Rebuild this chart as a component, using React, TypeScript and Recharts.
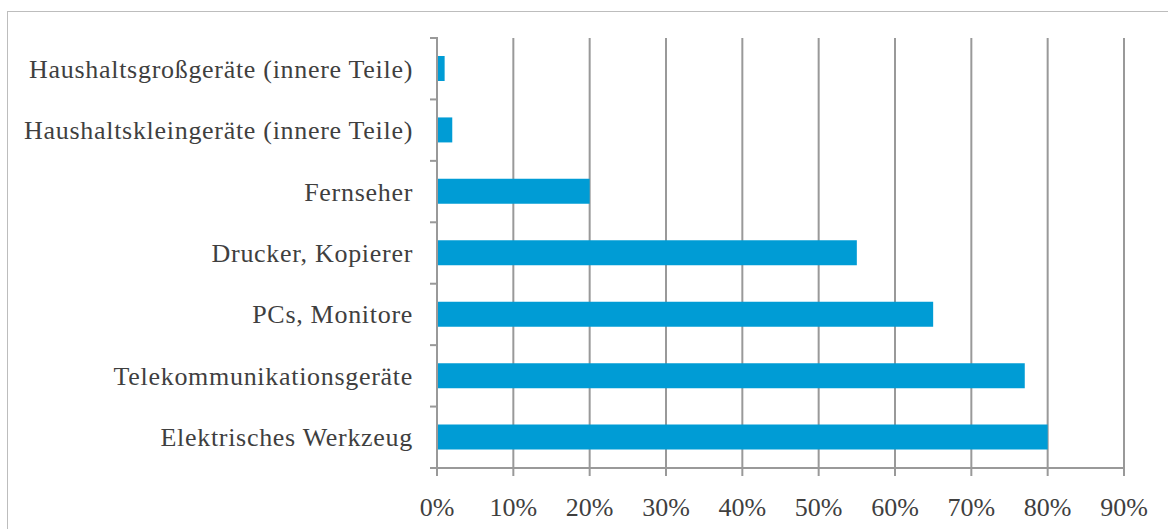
import React from 'react';
import {
  Bar,
  BarChart,
  CartesianGrid,
  XAxis,
  YAxis,
} from 'recharts';

const categories = [
  'Haushaltsgroßgeräte (innere Teile)',
  'Haushaltskleingeräte (innere Teile)',
  'Fernseher',
  'Drucker, Kopierer',
  'PCs, Monitore',
  'Telekommunikationsgeräte',
  'Elektrisches Werkzeug',
];

const shares = [1, 2, 20, 55, 65, 77, 80];

const xTicks = [0, 10, 20, 30, 40, 50, 60, 70, 80, 90];

const data = categories.map((name, i) => ({ name, value: shares[i] }));

const WIDTH = 1168;
const HEIGHT = 529;
const MARGIN = { top: 38, right: 44, bottom: 0, left: 0 };
const X_AXIS_HEIGHT = 61;
const Y_AXIS_WIDTH = 437;
const BAND = (HEIGHT - MARGIN.top - MARGIN.bottom - X_AXIS_HEIGHT) / categories.length;

const FONT = '"Liberation Serif", serif';
const GRID = '#999999';
const TEXT = '#3f3f3f';

// category ticks sit on the band edges, not the band centres
function CategoryTick(props: any) {
  const { x, y, payload, index } = props;
  const top = y - BAND / 2;
  return (
    <g>
      <line x1={x + 1} x2={x + 9} y1={top} y2={top} stroke={GRID} strokeWidth={2} />
      {index === categories.length - 1 && (
        <line x1={x + 1} x2={x + 9} y1={top + BAND} y2={top + BAND} stroke={GRID} strokeWidth={2} />
      )}
      <text
        x={x - 16}
        y={y}
        dy={9}
        textAnchor="end"
        fill={TEXT}
        fontFamily={FONT}
        fontSize={26}
        letterSpacing={0.7}
      >
        {payload.value}
      </text>
    </g>
  );
}

function PercentTick(props: any) {
  const { x, y, payload } = props;
  return (
    <text
      x={x}
      y={y}
      dy={38}
      textAnchor="middle"
      fill={TEXT}
      fontFamily={FONT}
      fontSize={26}
    >
      {payload.value}%
    </text>
  );
}

export default function App() {
  return (
    <div
      style={{
        position: 'absolute',
        left: 0,
        top: 0,
        width: WIDTH,
        height: HEIGHT,
        background: '#fff',
        overflow: 'hidden',
      }}
    >
      <div
        style={{
          position: 'absolute',
          left: 7,
          top: 11,
          width: WIDTH + 10,
          height: HEIGHT,
          borderLeft: '1.5px solid #bdbdbd',
          borderTop: '1.5px solid #bdbdbd',
        }}
      />
      <div style={{ position: 'absolute', left: 0, top: 0 }}>
        <BarChart
          width={WIDTH}
          height={HEIGHT}
          data={data}
          layout="vertical"
          margin={MARGIN}
          barSize={25}
        >
          <CartesianGrid
            horizontal={false}
            stroke={GRID}
            strokeWidth={2}
            strokeDasharray=""
          />
          <XAxis
            type="number"
            domain={[0, 90]}
            ticks={xTicks}
            interval={0}
            height={X_AXIS_HEIGHT}
            axisLine={{ stroke: GRID, strokeWidth: 2 }}
            tickLine={{ stroke: GRID, strokeWidth: 2 }}
            tickSize={8}
            tick={<PercentTick />}
          />
          <YAxis
            type="category"
            dataKey="name"
            width={Y_AXIS_WIDTH}
            axisLine={{ stroke: GRID, strokeWidth: 2 }}
            tickLine={false}
            interval={0}
            tick={<CategoryTick />}
          />
          <Bar dataKey="value" fill="#009cd5" isAnimationActive={false} />
        </BarChart>
      </div>
    </div>
  );
}
